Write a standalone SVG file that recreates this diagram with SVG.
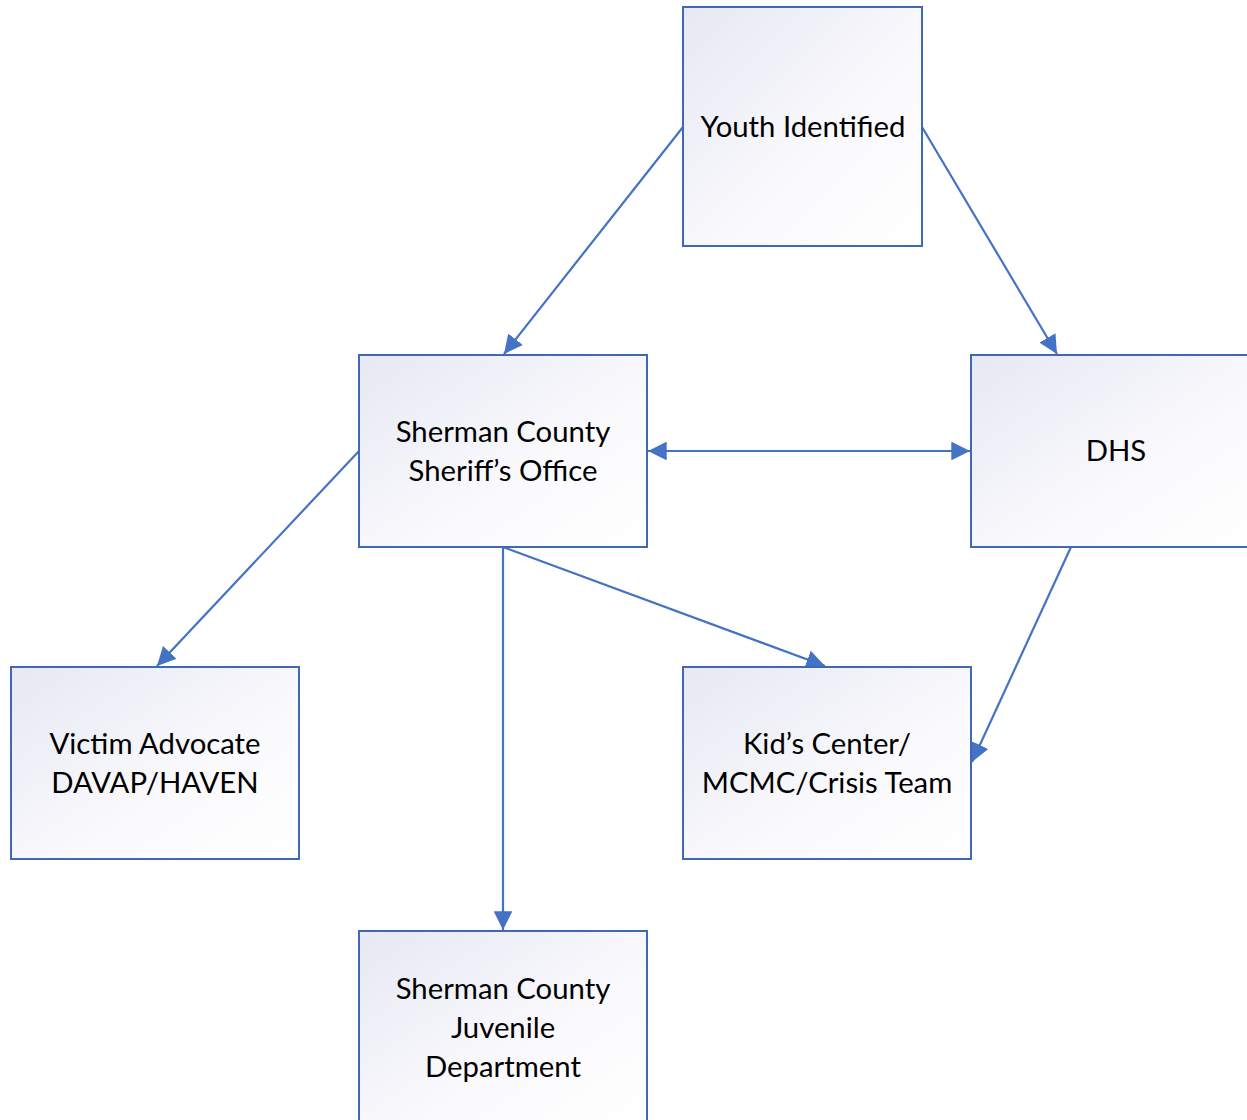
<svg xmlns="http://www.w3.org/2000/svg" width="1247" height="1120" viewBox="0 0 1247 1120">
<style>
.box{fill:url(#g);stroke:#4068B4;stroke-width:2}
.lbl{font-family:Lato,"Liberation Sans",sans-serif;font-size:29.3px;fill:#000;text-anchor:middle}
.con{stroke:#4472C4;stroke-width:2.2;fill:none}
</style>
<defs>
<linearGradient id="g" x1="0" y1="0" x2="1" y2="1">
<stop offset="0" stop-color="#E6E8F3"/>
<stop offset="0.6" stop-color="#FAFAFD"/>
<stop offset="1" stop-color="#FFFFFF"/>
</linearGradient>
<marker id="ah" viewBox="0 0 10 10" refX="10" refY="5" markerWidth="8.5" markerHeight="8.5" orient="auto-start-reverse" markerUnits="strokeWidth">
<path d="M0,0 L10,5 L0,10 z" fill="#4472C4"/>
</marker>
</defs>
<rect width="1247" height="1120" fill="#fff"/>
<g id="connectors">
<line class="con" x1="683" y1="127" x2="504" y2="354" marker-end="url(#ah)"/>
<line class="con" x1="922" y1="127" x2="1057" y2="354" marker-end="url(#ah)"/>
<line class="con" x1="648" y1="451" x2="970" y2="451" marker-start="url(#ah)" marker-end="url(#ah)"/>
<line class="con" x1="359" y1="451" x2="157" y2="666" marker-end="url(#ah)"/>
<line class="con" x1="503" y1="547" x2="503" y2="930" marker-end="url(#ah)"/>
<line class="con" x1="503" y1="547" x2="825" y2="666" marker-end="url(#ah)"/>
<line class="con" x1="1071" y1="547" x2="972" y2="762" marker-end="url(#ah)"/>
</g>
<g id="youth">
<rect class="box" x="683" y="7" width="239" height="239"/>
<text class="lbl" x="803" y="137">Youth Identified</text>
</g>
<g id="sheriff">
<rect class="box" x="359" y="355" width="288" height="192"/>
<text class="lbl" x="503" y="442">Sherman County</text>
<text class="lbl" x="503" y="481">Sheriff’s Office</text>
</g>
<g id="dhs">
<rect class="box" x="971" y="355" width="288" height="192"/>
<text class="lbl" x="1116" y="461">DHS</text>
</g>
<g id="victim">
<rect class="box" x="11" y="667" width="288" height="192"/>
<text class="lbl" x="155" y="754">Victim Advocate</text>
<text class="lbl" x="155" y="793">DAVAP/HAVEN</text>
</g>
<g id="kids">
<rect class="box" x="683" y="667" width="288" height="192"/>
<text class="lbl" x="827" y="754">Kid’s Center/</text>
<text class="lbl" x="827" y="793">MCMC/Crisis Team</text>
</g>
<g id="juvenile">
<rect class="box" x="359" y="931" width="288" height="192"/>
<text class="lbl" x="503" y="999">Sherman County</text>
<text class="lbl" x="503" y="1038">Juvenile</text>
<text class="lbl" x="503" y="1077">Department</text>
</g>
</svg>
